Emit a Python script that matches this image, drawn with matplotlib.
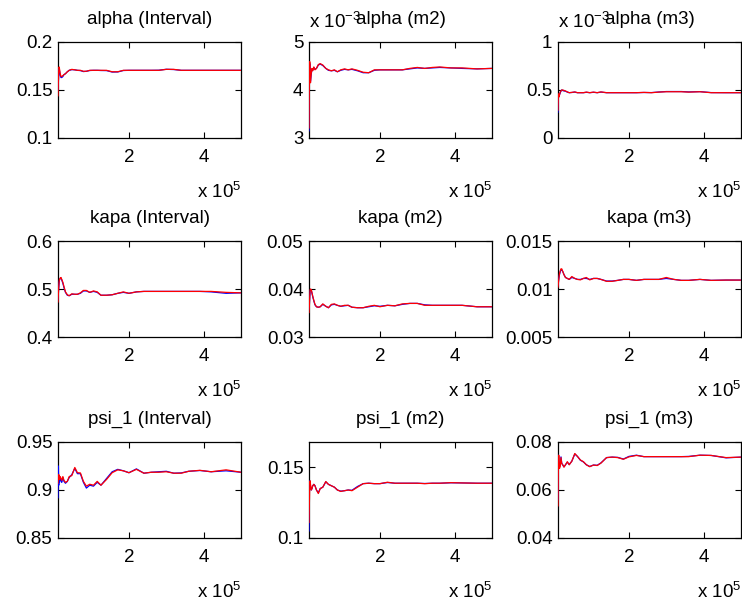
import numpy as np
import matplotlib
matplotlib.use('Agg')
import matplotlib.pyplot as plt
from matplotlib.ticker import FuncFormatter

plt.rcParams['font.family'] = ['Liberation Sans', 'DejaVu Sans']
plt.rcParams['mathtext.default'] = 'regular'

# draws (x axis)
draws = [10000, 11000, 12000, 13000, 14000, 16000, 18000, 20000, 23000, 26000,
         30000, 35000, 40000, 47000, 55000, 62000, 70000, 78000, 86000, 95000,
         105000, 115000, 125000, 140000, 155000, 170000, 185000, 200000, 220000, 240000,
         260000, 280000, 300000, 320000, 340000, 360000, 390000, 420000, 460000, 500000]

# alpha (Interval)
alpha_int_red = [0.144, 0.160, 0.170, 0.174, 0.172, 0.167, 0.164, 0.164, 0.165, 0.166,
                 0.167, 0.169, 0.1705, 0.1715, 0.171, 0.1705, 0.1705, 0.1695, 0.1695, 0.1705,
                 0.1705, 0.1705, 0.1705, 0.1705, 0.169, 0.169, 0.1705, 0.1705, 0.1705, 0.1705,
                 0.1705, 0.1705, 0.1715, 0.1715, 0.1705, 0.1705, 0.1705, 0.1705, 0.1705, 0.1705]
alpha_int_blue = [0.150, 0.158, 0.168, 0.172, 0.170, 0.165, 0.163, 0.163, 0.164, 0.166,
                  0.167, 0.169, 0.1705, 0.1712, 0.171, 0.1705, 0.1702, 0.1692, 0.1695, 0.1703,
                  0.1705, 0.1705, 0.1703, 0.1702, 0.1687, 0.1688, 0.1703, 0.1705, 0.1705, 0.1705,
                  0.1705, 0.1706, 0.1716, 0.1713, 0.1705, 0.1705, 0.1705, 0.1705, 0.1705, 0.1705]

# alpha (m2), x 1e-3
alpha_m2_red = [3.21, 4.20, 4.59, 4.30, 4.15, 4.35, 4.45, 4.40, 4.48, 4.42,
                4.45, 4.53, 4.55, 4.52, 4.45, 4.42, 4.40, 4.42, 4.38, 4.42,
                4.44, 4.42, 4.44, 4.41, 4.37, 4.36, 4.42, 4.42, 4.42, 4.42,
                4.42, 4.45, 4.47, 4.45, 4.47, 4.48, 4.46, 4.46, 4.44, 4.45]
alpha_m2_blue = [3.15, 4.10, 4.55, 4.33, 4.18, 4.33, 4.43, 4.41, 4.47, 4.43,
                 4.45, 4.52, 4.54, 4.51, 4.45, 4.41, 4.40, 4.41, 4.38, 4.41,
                 4.43, 4.42, 4.43, 4.40, 4.36, 4.36, 4.41, 4.42, 4.42, 4.42,
                 4.42, 4.44, 4.46, 4.45, 4.46, 4.47, 4.46, 4.45, 4.44, 4.45]

# alpha (m3), x 1e-3
alpha_m3_red = [0.29, 0.46, 0.44, 0.43, 0.45, 0.48, 0.49, 0.50, 0.50, 0.495,
                0.49, 0.48, 0.472, 0.475, 0.48, 0.472, 0.472, 0.472, 0.478, 0.472,
                0.478, 0.472, 0.48, 0.472, 0.472, 0.472, 0.472, 0.472, 0.472, 0.475,
                0.472, 0.478, 0.482, 0.482, 0.482, 0.478, 0.482, 0.472, 0.472, 0.472]
alpha_m3_blue = [0.27, 0.45, 0.43, 0.43, 0.45, 0.47, 0.49, 0.50, 0.495, 0.49,
                 0.488, 0.478, 0.472, 0.474, 0.478, 0.472, 0.472, 0.472, 0.476, 0.472,
                 0.476, 0.472, 0.478, 0.472, 0.472, 0.472, 0.472, 0.472, 0.472, 0.474,
                 0.473, 0.479, 0.484, 0.484, 0.484, 0.48, 0.483, 0.473, 0.472, 0.472]

# kapa (Interval)
kapa_int_red = [0.473, 0.490, 0.505, 0.515, 0.520, 0.523, 0.524, 0.520, 0.514, 0.505,
                0.494, 0.488, 0.486, 0.490, 0.489, 0.489, 0.492, 0.497, 0.497, 0.493,
                0.496, 0.494, 0.487, 0.487, 0.488, 0.491, 0.494, 0.491, 0.494, 0.495,
                0.495, 0.495, 0.495, 0.495, 0.495, 0.495, 0.495, 0.495, 0.493, 0.492]
kapa_int_blue = [0.478, 0.492, 0.503, 0.513, 0.519, 0.522, 0.523, 0.519, 0.512, 0.503,
                 0.493, 0.487, 0.486, 0.489, 0.489, 0.489, 0.491, 0.496, 0.496, 0.493,
                 0.495, 0.493, 0.487, 0.487, 0.488, 0.491, 0.493, 0.491, 0.494, 0.495,
                 0.495, 0.495, 0.495, 0.495, 0.495, 0.495, 0.495, 0.494, 0.491, 0.492]

# kapa (m2)
kapa_m2_red = [0.0351, 0.0365, 0.0385, 0.0398, 0.0400, 0.0399, 0.0392, 0.0385, 0.0376, 0.0368,
               0.0363, 0.0362, 0.0363, 0.0369, 0.0364, 0.0361, 0.0368, 0.0369, 0.0366, 0.0364,
               0.0366, 0.0366, 0.0362, 0.0361, 0.0361, 0.0364, 0.0366, 0.0363, 0.0366, 0.0365,
               0.0369, 0.0370, 0.0370, 0.0366, 0.0366, 0.0366, 0.0366, 0.0366, 0.0363, 0.0363]
kapa_m2_blue = [0.0358, 0.0368, 0.0384, 0.0396, 0.0399, 0.0398, 0.0391, 0.0384, 0.0375, 0.0367,
                0.0363, 0.0362, 0.0363, 0.0368, 0.0364, 0.0361, 0.0367, 0.0368, 0.0366, 0.0364,
                0.0365, 0.0366, 0.0362, 0.0361, 0.0361, 0.0363, 0.0365, 0.0364, 0.0366, 0.0365,
                0.0368, 0.0370, 0.0370, 0.0367, 0.0366, 0.0366, 0.0366, 0.0366, 0.0363, 0.0363]

# kapa (m3)
kapa_m3_red = [0.0102, 0.0106, 0.0110, 0.0113, 0.0116, 0.0119, 0.0121, 0.0121, 0.0118, 0.0115,
               0.0112, 0.0111, 0.0110, 0.0113, 0.0111, 0.0110, 0.01095, 0.0111, 0.0112, 0.01095,
               0.0111, 0.0111, 0.0110, 0.0108, 0.0108, 0.0109, 0.0110, 0.0110, 0.0109, 0.0110,
               0.0110, 0.0110, 0.0112, 0.0110, 0.0109, 0.0109, 0.0110, 0.0109, 0.01093, 0.01093]
kapa_m3_blue = [0.0104, 0.0107, 0.0110, 0.0113, 0.0115, 0.0118, 0.0120, 0.0120, 0.0118, 0.0115,
                0.0112, 0.0111, 0.0110, 0.0112, 0.0111, 0.0110, 0.0110, 0.0111, 0.0111, 0.0110,
                0.0111, 0.0111, 0.0110, 0.01083, 0.01083, 0.0109, 0.0110, 0.0110, 0.0109, 0.0110,
                0.0110, 0.0110, 0.0111, 0.0110, 0.0109, 0.0109, 0.0110, 0.0109, 0.01093, 0.01093]

# psi_1 (Interval)
psi_int_red = [0.907, 0.912, 0.916, 0.914, 0.911, 0.914, 0.912, 0.910, 0.914, 0.910,
               0.908, 0.909, 0.914, 0.915, 0.9235, 0.918, 0.9178, 0.909, 0.904, 0.906,
               0.905, 0.909, 0.905, 0.911, 0.918, 0.921, 0.920, 0.918, 0.9215, 0.9175,
               0.9185, 0.9185, 0.919, 0.9175, 0.9175, 0.9195, 0.9205, 0.919, 0.921, 0.9185]
psi_int_blue = [0.892, 0.925, 0.905, 0.915, 0.908, 0.912, 0.910, 0.908, 0.913, 0.909,
                0.907, 0.909, 0.913, 0.916, 0.9225, 0.917, 0.917, 0.908, 0.902, 0.905,
                0.904, 0.908, 0.905, 0.912, 0.919, 0.9215, 0.920, 0.918, 0.922, 0.9175,
                0.9185, 0.919, 0.9195, 0.9175, 0.9178, 0.9195, 0.9203, 0.919, 0.920, 0.9185]

# psi_1 (m2)
psi_m2_red = [0.111, 0.125, 0.138, 0.1405, 0.138, 0.134, 0.135, 0.137, 0.138, 0.137,
              0.134, 0.1315, 0.135, 0.136, 0.140, 0.138, 0.137, 0.136, 0.134, 0.133,
              0.1335, 0.134, 0.1335, 0.136, 0.1385, 0.1388, 0.1385, 0.1385, 0.1395, 0.1388,
              0.1388, 0.1388, 0.1388, 0.1385, 0.1388, 0.1388, 0.1392, 0.139, 0.1388, 0.1388]
psi_m2_blue = [0.105, 0.132, 0.1405, 0.139, 0.137, 0.134, 0.135, 0.137, 0.138, 0.137,
               0.134, 0.132, 0.135, 0.136, 0.1398, 0.138, 0.137, 0.136, 0.134, 0.1332,
               0.1335, 0.134, 0.1338, 0.1365, 0.1385, 0.1388, 0.1385, 0.1385, 0.1393, 0.1388,
               0.1388, 0.1388, 0.1388, 0.1386, 0.1388, 0.1388, 0.1391, 0.139, 0.1388, 0.1388]

# psi_1 (m3)
psi_m3_red = [0.0534, 0.0700, 0.0745, 0.0710, 0.0690, 0.0700, 0.0735, 0.0710, 0.0705, 0.0695,
              0.0705, 0.0718, 0.0705, 0.0720, 0.0752, 0.0740, 0.0725, 0.0718, 0.0705, 0.0697,
              0.0704, 0.0702, 0.0712, 0.0735, 0.0737, 0.0735, 0.0728, 0.0738, 0.0744, 0.0739,
              0.0739, 0.0739, 0.0739, 0.0739, 0.0739, 0.0739, 0.0745, 0.0744, 0.0735, 0.0737]
psi_m3_blue = [0.0560, 0.0745, 0.0735, 0.0705, 0.0695, 0.0705, 0.0738, 0.0712, 0.0703, 0.0697,
               0.0705, 0.0716, 0.0706, 0.0720, 0.0750, 0.0740, 0.0724, 0.0717, 0.0705, 0.0698,
               0.0704, 0.0703, 0.0713, 0.0735, 0.0737, 0.0736, 0.0729, 0.0740, 0.0745, 0.0739,
               0.0739, 0.0739, 0.0739, 0.0739, 0.0739, 0.0740, 0.0745, 0.0744, 0.0734, 0.0737]

titles = ['alpha (Interval)', 'alpha (m2)', 'alpha (m3)',
          'kapa (Interval)', 'kapa (m2)', 'kapa (m3)',
          'psi_1 (Interval)', 'psi_1 (m2)', 'psi_1 (m3)']

panels = [
    (alpha_int_blue, alpha_int_red, 1.0, (0.1, 0.2), [0.1, 0.15, 0.2]),
    (alpha_m2_blue, alpha_m2_red, 1e-3, (3, 5), [3, 4, 5]),
    (alpha_m3_blue, alpha_m3_red, 1e-3, (0, 1), [0, 0.5, 1]),
    (kapa_int_blue, kapa_int_red, 1.0, (0.4, 0.6), [0.4, 0.5, 0.6]),
    (kapa_m2_blue, kapa_m2_red, 1.0, (0.03, 0.05), [0.03, 0.04, 0.05]),
    (kapa_m3_blue, kapa_m3_red, 1.0, (0.005, 0.015), [0.005, 0.01, 0.015]),
    (psi_int_blue, psi_int_red, 1.0, (0.85, 0.95), [0.85, 0.9, 0.95]),
    (psi_m2_blue, psi_m2_red, 1.0, (0.1, 0.168), [0.1, 0.15]),
    (psi_m3_blue, psi_m3_red, 1.0, (0.04, 0.08), [0.04, 0.06, 0.08]),
]

W, H = 742, 605
lefts = [58, 309, 558]
tops = [42, 241, 442]
aw, ah = 183, 96
FS = 13.5

fig = plt.figure(figsize=(W / 100, H / 100), dpi=100)

x = np.array(draws)
for i, (blue, red, scale, ylim, yticks) in enumerate(panels):
    r, c = divmod(i, 3)
    ax = fig.add_axes([lefts[c] / W, 1 - (tops[r] + ah) / H, aw / W, ah / H])
    # lines drawn over the box, like matlab
    ax.plot(x, np.array(blue) * scale, color='#0000ff', lw=0.9, zorder=3)
    ax.plot(x, np.array(red) * scale, color='#ff0000', lw=0.9, zorder=3.1)
    ax.set_xlim(10000, 500000)
    ax.set_ylim(ylim[0] * scale, ylim[1] * scale)
    ax.set_xticks([200000, 400000])
    ax.xaxis.set_major_formatter(FuncFormatter(lambda v, p: '%g' % (v / 1e5)))
    ax.set_yticks([t * scale for t in yticks])
    ax.yaxis.set_major_formatter(FuncFormatter(lambda v, p, s=scale: '%g' % round(v / s, 6)))
    ax.tick_params(direction='in', top=True, right=True, length=4, width=0.8,
                   labelsize=FS, colors='black')
    ax.tick_params(axis='x', pad=8)
    ax.tick_params(axis='y', pad=4)
    for sp in ax.spines.values():
        sp.set_linewidth(0.9)
    ax.set_title(titles[i], fontsize=FS, pad=13)
    ax.text(1.0, -0.56, 'x 10$^{5}$', transform=ax.transAxes, ha='right',
            va='center', fontsize=FS)
    if scale != 1.0:
        ax.text(0.0, 1.146, 'x 10$^{-3}$', transform=ax.transAxes, ha='left',
                va='baseline', fontsize=FS)

fig.savefig('out.png', dpi=100)
